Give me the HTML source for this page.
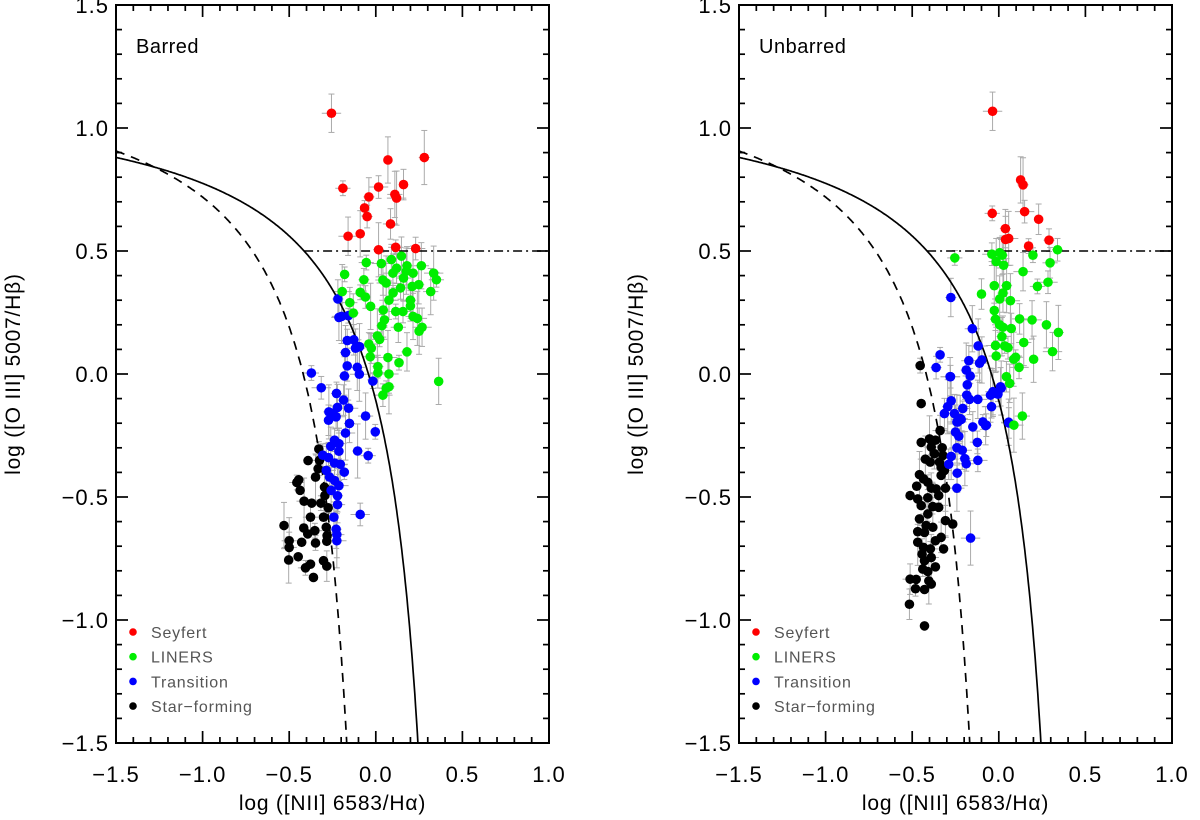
<!DOCTYPE html>
<html><head><meta charset="utf-8"><style>
html,body{margin:0;padding:0;background:#fff;}
svg{display:block;font-family:"Liberation Sans","DejaVu Sans",sans-serif;}
</style></head><body>
<svg id="chart" width="1200" height="820" viewBox="0 0 1200 820" xmlns="http://www.w3.org/2000/svg"></svg>
<script>
const xTicks=[-1.5,-1.0,-0.5,0.0,0.5,1.0];
const xTickLabels=["\u22121.5","\u22121.0","\u22120.5","0.0","0.5","1.0"];
const yTicks=[-1.5,-1.0,-0.5,0.0,0.5,1.0,1.5];
const yTickLabels=["\u22121.5","\u22121.0","\u22120.5","0.0","0.5","1.0","1.5"];
const legendLabels=["Seyfert","LINERS","Transition","Star\u2212forming"];
const panelTitles=["Barred","Unbarred"];

const barredSeyfert=[[-0.256,1.06],[0.07,0.87],[0.28,0.88],[-0.19,0.755],[0.016,0.76],[0.16,0.77],[-0.04,0.72],[0.11,0.73],[0.12,0.715],[-0.065,0.675],[-0.05,0.64],[0.085,0.61],[-0.16,0.56],[-0.09,0.57],[0.016,0.505],[0.115,0.515],[0.23,0.51]];
const barredLiners=[[-0.055,0.453],[0.032,0.449],[0.09,0.465],[0.148,0.479],[0.263,0.44],[0.334,0.41],[-0.18,0.405],[-0.069,0.383],[0.041,0.382],[0.099,0.41],[0.176,0.418],[0.215,0.41],[0.35,0.383],[0.143,0.35],[0.21,0.356],[0.248,0.363],[0.317,0.335],[-0.194,0.335],[-0.09,0.332],[-0.06,0.313],[-0.15,0.29],[0.076,0.3],[-0.03,0.275],[0.043,0.26],[0.115,0.254],[0.157,0.254],[0.2,0.277],[-0.13,0.248],[0.215,0.234],[0.24,0.226],[0.05,0.22],[0.035,0.196],[0.13,0.19],[0.267,0.19],[0.25,0.174],[0.009,0.155],[0.022,0.141],[-0.04,0.122],[-0.026,0.105],[0.18,0.09],[-0.032,0.07],[0.07,0.067],[0.134,0.046],[0.012,0.03],[0.012,0.005],[0.076,0.0],[0.363,-0.03],[0.076,-0.052],[0.06,-0.058],[0.041,-0.086],[0.12,0.43],[0.18,0.44],[0.16,0.39],[0.06,0.37],[0.1,0.33],[0.2,0.3]];
const barredTransition=[[-0.219,0.305],[-0.213,0.23],[-0.198,0.234],[-0.159,0.237],[-0.165,0.136],[-0.127,0.139],[-0.117,0.105],[-0.094,0.111],[-0.175,0.087],[-0.372,0.004],[-0.315,-0.056],[-0.165,0.033],[-0.181,-0.008],[-0.107,0.027],[-0.095,-0.001],[-0.017,-0.029],[-0.227,-0.079],[-0.186,-0.106],[-0.157,-0.139],[-0.221,-0.136],[-0.271,-0.154],[-0.248,-0.16],[-0.229,-0.174],[-0.273,-0.188],[-0.152,-0.201],[-0.059,-0.171],[-0.175,-0.24],[-0.003,-0.235],[-0.238,-0.269],[-0.213,-0.283],[-0.26,-0.294],[-0.213,-0.314],[-0.105,-0.313],[-0.044,-0.332],[-0.306,-0.33],[-0.273,-0.34],[-0.238,-0.362],[-0.205,-0.367],[-0.286,-0.392],[-0.182,-0.399],[-0.267,-0.419],[-0.238,-0.433],[-0.213,-0.454],[-0.258,-0.473],[-0.221,-0.495],[-0.221,-0.531],[-0.09,-0.571],[-0.242,-0.582],[-0.229,-0.631],[-0.225,-0.653],[-0.225,-0.678]];
const barredStarForming=[[-0.329,-0.305],[-0.391,-0.352],[-0.325,-0.351],[-0.333,-0.385],[-0.348,-0.419],[-0.445,-0.43],[-0.456,-0.441],[-0.437,-0.473],[-0.296,-0.46],[-0.294,-0.494],[-0.414,-0.517],[-0.37,-0.525],[-0.317,-0.525],[-0.275,-0.544],[-0.377,-0.582],[-0.302,-0.582],[-0.53,-0.616],[-0.416,-0.626],[-0.352,-0.637],[-0.393,-0.65],[-0.286,-0.623],[-0.281,-0.657],[-0.5,-0.678],[-0.428,-0.684],[-0.348,-0.687],[-0.283,-0.68],[-0.5,-0.705],[-0.448,-0.743],[-0.503,-0.756],[-0.377,-0.773],[-0.406,-0.788],[-0.302,-0.759],[-0.283,-0.781],[-0.36,-0.827]];

const unbarredSeyfert=[[-0.036,1.068],[0.126,0.789],[0.14,0.769],[-0.038,0.653],[0.149,0.66],[0.23,0.629],[0.038,0.591],[0.039,0.547],[0.057,0.551],[0.172,0.52],[0.29,0.544]];
const unbarredLiners=[[-0.254,0.472],[-0.04,0.487],[0.005,0.493],[0.02,0.483],[-0.015,0.457],[0.028,0.442],[0.197,0.483],[0.339,0.505],[0.296,0.452],[0.14,0.416],[-0.026,0.359],[0.045,0.359],[0.223,0.356],[0.284,0.373],[-0.1,0.325],[0.024,0.329],[0.005,0.305],[0.067,0.298],[-0.026,0.258],[-0.019,0.223],[0.12,0.224],[0.192,0.22],[0.275,0.2],[0.344,0.169],[0.005,0.2],[0.024,0.19],[0.072,0.185],[0.018,0.152],[0.144,0.128],[-0.019,0.116],[0.034,0.114],[0.053,0.107],[-0.015,0.073],[0.31,0.091],[0.201,0.06],[0.086,0.06],[0.097,0.068],[0.117,0.027],[0.044,-0.011],[0.063,-0.038],[0.136,-0.171],[0.087,-0.208]];
const unbarredTransition=[[-0.277,0.311],[-0.153,0.184],[-0.119,0.114],[-0.339,0.078],[-0.362,0.026],[-0.173,0.054],[-0.111,0.044],[-0.098,0.057],[-0.188,0.016],[-0.165,-0.008],[-0.279,-0.011],[-0.182,-0.044],[0.01,-0.052],[-0.034,-0.072],[-0.048,-0.086],[-0.005,-0.082],[-0.185,-0.086],[-0.169,-0.103],[-0.121,-0.103],[-0.275,-0.109],[-0.295,-0.133],[-0.208,-0.14],[-0.042,-0.133],[-0.314,-0.161],[-0.256,-0.161],[-0.223,-0.181],[-0.242,-0.195],[-0.092,-0.195],[-0.072,-0.208],[0.058,-0.199],[-0.281,-0.011],[-0.034,-0.079],[0.014,-0.057],[-0.237,-0.195],[-0.217,-0.185],[-0.15,-0.215],[-0.076,-0.21],[0.057,-0.196],[-0.25,-0.236],[-0.231,-0.253],[-0.124,-0.278],[-0.242,-0.3],[-0.211,-0.31],[-0.275,-0.335],[-0.196,-0.344],[-0.188,-0.365],[-0.121,-0.351],[-0.289,-0.367],[-0.24,-0.403],[-0.242,-0.464],[-0.163,-0.667]];
const unbarredStarForming=[[-0.454,0.034],[-0.448,-0.12],[-0.339,-0.23],[-0.448,-0.278],[-0.4,-0.264],[-0.366,-0.269],[-0.39,-0.297],[-0.327,-0.3],[-0.372,-0.324],[-0.323,-0.331],[-0.424,-0.346],[-0.396,-0.358],[-0.343,-0.358],[-0.333,-0.378],[-0.314,-0.392],[-0.333,-0.412],[-0.458,-0.409],[-0.435,-0.426],[-0.41,-0.44],[-0.474,-0.456],[-0.39,-0.464],[-0.362,-0.467],[-0.308,-0.464],[-0.512,-0.494],[-0.347,-0.494],[-0.468,-0.508],[-0.41,-0.503],[-0.448,-0.535],[-0.381,-0.539],[-0.347,-0.542],[-0.41,-0.569],[-0.458,-0.589],[-0.308,-0.596],[-0.266,-0.61],[-0.42,-0.616],[-0.381,-0.623],[-0.468,-0.641],[-0.429,-0.644],[-0.333,-0.664],[-0.366,-0.678],[-0.468,-0.684],[-0.435,-0.705],[-0.395,-0.711],[-0.319,-0.711],[-0.443,-0.732],[-0.429,-0.759],[-0.39,-0.746],[-0.366,-0.784],[-0.439,-0.793],[-0.41,-0.803],[-0.512,-0.834],[-0.477,-0.835],[-0.404,-0.841],[-0.39,-0.854],[-0.481,-0.873],[-0.429,-0.876],[-0.516,-0.936],[-0.429,-1.024]];

const NS="http://www.w3.org/2000/svg";
const svg=document.getElementById('chart');
function mk(tag,attrs,parent){const e=document.createElementNS(NS,tag);for(const k in attrs)e.setAttribute(k,attrs[k]);(parent||svg).appendChild(e);return e;}

const panels=[
 {left:116,title:panelTitles[0],sets:[barredStarForming,barredTransition,barredLiners,barredSeyfert],key:'barred'},
 {left:739,title:panelTitles[1],sets:[unbarredStarForming,unbarredTransition,unbarredLiners,unbarredSeyfert],key:'unbarred'}
];
const colors=["#000000","#0000ff","#00ee00","#ff0000"];
const setNames=["star-forming","transition","liners","seyfert"];
const W=433, TOP=5, BOT=743;
const XMIN=-1.5,XMAX=1.0,YMIN=-1.5,YMAX=1.5;

panels.forEach((p,pi)=>{
 const g=mk('g',{});
 
 
 const sx=v=>p.left+(v-XMIN)/(XMAX-XMIN)*W;
 const sy=v=>BOT-(v-YMIN)/(YMAX-YMIN)*(BOT-TOP);
 const clipId='clip'+pi;
 const cp=mk('clipPath',{id:clipId},g);mk('rect',{x:p.left,y:TOP,width:W,height:BOT-TOP},cp);
 const eg=mk('g',{stroke:'#aaaaaa','stroke-width':1,'clip-path':'url(#'+clipId+')'},g);
 
 
 p.sets.forEach((s,si)=>{s.forEach((pt,i)=>{
   if(si==0 && i%2==1) return;
   const ey=0.03+((i*7+si*3)%6)*0.016, ex=0.02+((i*5+si)%4)*0.012;
   const cx=sx(pt[0]),cy=sy(pt[1]);
   mk('line',{x1:cx,x2:cx,y1:sy(pt[1]+ey),y2:sy(pt[1]-ey)},eg);
   mk('line',{x1:sx(pt[0]-ex),x2:sx(pt[0]+ex),y1:cy,y2:cy},eg);
   mk('line',{x1:cx-3,x2:cx+3,y1:sy(pt[1]+ey),y2:sy(pt[1]+ey)},eg);
   mk('line',{x1:cx-3,x2:cx+3,y1:sy(pt[1]-ey),y2:sy(pt[1]-ey)},eg);
 });});
 let dK='',dS='';
 for(let x=-1.5;x<=0.0;x+=0.005){const y=0.61/(x-0.05)+1.3;if(y<YMIN)break;dK+=(dK?'L':'M')+sx(x).toFixed(1)+','+sy(y).toFixed(1);}
 {const x=0.05+0.61/(YMIN-1.3);dK+='L'+sx(x).toFixed(1)+','+sy(YMIN).toFixed(1);}
 for(let x=-1.5;x<=0.4;x+=0.005){const y=0.61/(x-0.47)+1.19;if(y<YMIN)break;dS+=(dS?'L':'M')+sx(x).toFixed(1)+','+sy(y).toFixed(1);}
 {const x=0.47+0.61/(YMIN-1.19);dS+='L'+sx(x).toFixed(1)+','+sy(YMIN).toFixed(1);}
 const k=mk('path',{d:dK,fill:'none',stroke:'#000','stroke-width':1.7,'stroke-dasharray':'9,7','clip-path':'url(#'+clipId+')'},g);
 
 
 const s=mk('path',{d:dS,fill:'none',stroke:'#000','stroke-width':1.7,'clip-path':'url(#'+clipId+')'},g);
 
 
 const xi=0.47+0.61/(0.5-1.19);
 const dd=mk('line',{x1:sx(xi),x2:sx(XMAX),y1:sy(0.5),y2:sy(0.5),stroke:'#000','stroke-width':1.5,'stroke-dasharray':'9,4,2,4'},g);
 
 
 p.sets.forEach((st,si)=>{
   const pg=mk('g',{fill:colors[si]},g);
   
   
   st.forEach(pt=>{
     const c=mk('circle',{cx:sx(pt[0]),cy:sy(pt[1]),r:4.8},pg);
     
     
   });
 });
 const fr=mk('rect',{x:p.left,y:TOP,width:W,height:BOT-TOP,fill:'none',stroke:'#000','stroke-width':2},g);
 
 
 const tg=mk('g',{stroke:'#000','stroke-width':1.7},g);
 
 
 for(let i=0;i<=25;i++){const v=XMIN+i*0.1;const major=i%5==0;const L=major?12:6;const x=sx(v);
   mk('line',{x1:x,x2:x,y1:BOT,y2:BOT-L},tg);mk('line',{x1:x,x2:x,y1:TOP,y2:TOP+L},tg);}
 for(let i=0;i<=30;i++){const v=YMIN+i*0.1;const major=i%5==0;const L=major?12:6;const y=sy(v);
   mk('line',{x1:p.left,x2:p.left+L,y1:y,y2:y},tg);mk('line',{x1:p.left+W,x2:p.left+W-L,y1:y,y2:y},tg);}
 xTicks.forEach((v,i)=>{const t=mk('text',{x:sx(v),y:782,'text-anchor':'middle','font-size':22,'letter-spacing':'1',fill:'#000'},g);t.textContent=xTickLabels[i];
   
   });
 yTicks.forEach((v,i)=>{const t=mk('text',{x:p.left-7,y:sy(v)+8,'text-anchor':'end','font-size':22,'letter-spacing':'1',fill:'#000'},g);t.textContent=yTickLabels[i];
   
   });
 const xt=mk('text',{x:p.left+W/2,y:810,'text-anchor':'middle','font-size':21,'letter-spacing':'0.8',fill:'#000'},g);
 xt.textContent='log ([NII] 6583/H\u03b1)';
 
 
 const yx=p.left-96, yy=(TOP+BOT)/2;
 const yt=mk('text',{x:yx,y:yy,'text-anchor':'middle','font-size':21,'letter-spacing':'0.8',fill:'#000',transform:'rotate(-90 '+yx+' '+yy+')'},g);
 yt.textContent='log ([O III] 5007/H\u03b2)';
 
 
 const pt=mk('text',{x:p.left+20,y:53,'font-size':20,'letter-spacing':'0.5',fill:'#000'},g);
 pt.textContent=p.title;
 
 
 const lg=mk('g',{},g);
 
 
 const lc=["#ff0000","#00ee00","#0000ff","#000000"];
 legendLabels.forEach((lab,i)=>{
   const y=632+i*24.7;
   const c=mk('circle',{cx:p.left+17,cy:y,r:3.8,fill:lc[i]},lg);
   
   
   const t=mk('text',{x:p.left+35,y:y+6,'font-size':16,fill:'#555','letter-spacing':'0.8'},lg);
   t.textContent=lab;
   
   
 });
});
</script>
</body></html>
